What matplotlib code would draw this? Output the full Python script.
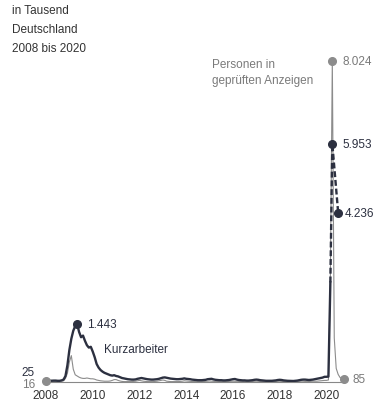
import numpy as np
import matplotlib
matplotlib.use("Agg")
import matplotlib.pyplot as plt

plt.rcParams['font.family'] = ['Liberation Sans', 'DejaVu Sans']

# Kurzarbeiter in Tausend, monatlich Jan 2008 .. Mar 2020
kurz_2008 = [25, 28, 30, 32, 35, 35, 30, 30, 40, 60, 150, 420]
kurz_2009 = [800, 1080, 1280, 1400, 1443, 1250, 1120, 1160, 1030, 920, 860, 880]
kurz_2010 = [760, 620, 450, 360, 300, 260, 230, 210, 190, 170, 160, 170]
kurz_2011 = [150, 140, 120, 100, 90, 80, 70, 65, 60, 60, 65, 80]
kurz_2012 = [90, 100, 90, 80, 70, 65, 60, 60, 65, 70, 80, 95]
kurz_2013 = [110, 115, 105, 95, 85, 80, 75, 70, 70, 75, 80, 90]
kurz_2014 = [80, 75, 70, 60, 55, 50, 45, 45, 45, 50, 55, 70]
kurz_2015 = [75, 80, 65, 55, 50, 45, 45, 40, 40, 45, 50, 60]
kurz_2016 = [70, 75, 60, 50, 45, 40, 40, 35, 35, 40, 45, 55]
kurz_2017 = [60, 55, 45, 40, 35, 30, 30, 30, 30, 35, 40, 50]
kurz_2018 = [55, 50, 40, 35, 30, 28, 25, 25, 30, 35, 45, 55]
kurz_2019 = [60, 60, 55, 50, 55, 60, 70, 80, 90, 100, 110, 130]
kurz_2020 = [130, 135, 2490]
# Hochrechnung (gestrichelt): Mar, Apr, Jul 2020
kurz_proj_months = [2020 + 2/12, 2020 + 3/12, 2020 + 6/12]
kurz_proj = [2490, 5953, 4236]

# Personen in geprüften Anzeigen, monatlich Jan 2008 .. Oct 2020
anz_2008 = [16, 15, 15, 15, 15, 15, 15, 18, 20, 30, 90, 220]
anz_2009 = [500, 660, 320, 180, 150, 120, 100, 90, 90, 100, 90, 80]
anz_2010 = [80, 70, 50, 40, 30, 25, 20, 20, 20, 25, 40, 60]
anz_2011 = [60, 40, 25, 15, 10, 10, 10, 10, 10, 15, 20, 30]
anz_2012 = [40, 30, 20, 15, 10, 10, 10, 10, 15, 20, 30, 40]
anz_2013 = [50, 40, 20, 15, 10, 10, 10, 10, 10, 15, 20, 30]
anz_2014 = [25, 20, 15, 12, 10, 10, 10, 10, 10, 12, 15, 20]
anz_2015 = [25, 20, 15, 12, 10, 10, 10, 10, 10, 12, 15, 20]
anz_2016 = [20, 18, 15, 12, 10, 10, 10, 10, 10, 12, 15, 20]
anz_2017 = [20, 15, 12, 10, 10, 10, 10, 10, 10, 12, 15, 18]
anz_2018 = [18, 15, 12, 10, 10, 10, 10, 10, 12, 15, 18, 20]
anz_2019 = [20, 15, 15, 15, 15, 20, 20, 20, 25, 30, 35, 40]
anz_2020 = [40, 50, 2600, 8024, 1100, 340, 190, 110, 100, 85]

years = [2008, 2010, 2012, 2014, 2016, 2018, 2020]

kurz = np.array(kurz_2008 + kurz_2009 + kurz_2010 + kurz_2011 + kurz_2012 + kurz_2013 +
                kurz_2014 + kurz_2015 + kurz_2016 + kurz_2017 + kurz_2018 + kurz_2019 + kurz_2020)
anz = np.array(anz_2008 + anz_2009 + anz_2010 + anz_2011 + anz_2012 + anz_2013 +
               anz_2014 + anz_2015 + anz_2016 + anz_2017 + anz_2018 + anz_2019 + anz_2020)
t_kurz = 2008 + np.arange(len(kurz)) / 12
t_anz = 2008 + np.arange(len(anz)) / 12

dark = '#2c3040'
gray = '#8c8c8c'
tgray = '#7a7a7a'

fig = plt.figure(figsize=(3.83, 4.14), dpi=100)
ax = fig.add_axes([46/383, 31/414, 298/383, 340/414])
ax.set_xlim(2008, 2020.75)
ax.set_ylim(0, 8500)

ax.plot(t_anz, anz, color=gray, lw=0.8, zorder=2)
ax.plot(t_kurz, kurz, color=dark, lw=1.7, zorder=3, solid_joinstyle='round')
ax.plot(kurz_proj_months, kurz_proj, color=dark, lw=1.7, ls=(0, (2.5, 1.2)), zorder=3)

# Punkte
ms = 5.5
ax.plot(t_anz[0], anz[0], 'o', color=gray, ms=ms, zorder=5, clip_on=False)
ax.plot(t_anz[-1], anz[-1], 'o', color=gray, ms=ms, zorder=5, clip_on=False)
i_max = int(np.argmax(anz))
ax.plot(t_anz[i_max], anz[i_max], 'o', color=gray, ms=ms, zorder=5)
k_max = int(np.argmax(kurz[:30]))
ax.plot(t_kurz[k_max], kurz[k_max], 'o', color=dark, ms=ms, zorder=5)
ax.plot(kurz_proj_months[1:], kurz_proj[1:], 'o', color=dark, ms=ms, zorder=5, lw=0)

fs = 8.5
ax.annotate('1.443', (t_kurz[k_max], kurz[k_max]), xytext=(7, 0), textcoords='offset points',
            va='center', ha='left', color=dark, fontsize=fs)
ax.text(2010.5, 820, 'Kurzarbeiter', color=dark, fontsize=fs, va='center')
ax.annotate('8.024', (t_anz[i_max], anz[i_max]), xytext=(7, 0), textcoords='offset points',
            va='center', ha='left', color=tgray, fontsize=fs)
ax.text(2015.1, 7750, 'Personen in\ngeprüften Anzeigen', color=tgray, fontsize=fs,
        va='center', ha='left', linespacing=1.35)
ax.annotate('5.953', (kurz_proj_months[1], kurz_proj[1]), xytext=(7, 0), textcoords='offset points',
            va='center', ha='left', color=dark, fontsize=fs)
ax.annotate('4.236', (kurz_proj_months[2], kurz_proj[2]), xytext=(5, 0), textcoords='offset points',
            va='center', ha='left', color=dark, fontsize=fs)
ax.annotate(str(anz[-1]), (t_anz[-1], anz[-1]), xytext=(6, 0), textcoords='offset points',
            va='center', ha='left', color=tgray, fontsize=fs)
ax.annotate(str(kurz[0]), (t_kurz[0], 0), xytext=(-8, 7), textcoords='offset points',
            va='center', ha='right', color=dark, fontsize=fs)
ax.annotate(str(anz[0]), (t_anz[0], 0), xytext=(-8, -1.5), textcoords='offset points',
            va='center', ha='right', color=tgray, fontsize=fs)

for s in ['top', 'right', 'left']:
    ax.spines[s].set_visible(False)
ax.spines['bottom'].set_color('#888888')
ax.spines['bottom'].set_linewidth(0.8)
ax.set_yticks([])
ax.set_xticks(years)
ax.set_xticklabels([str(y) for y in years])
ax.tick_params(axis='x', length=0, pad=5, labelsize=fs, labelcolor='#333333')

fig.text(12/383, 1 - 11/414, 'in Tausend', fontsize=fs, color='#333333', va='center')
fig.text(12/383, 1 - 30/414, 'Deutschland', fontsize=fs, color='#333333', va='center')
fig.text(12/383, 1 - 49/414, '2008 bis 2020', fontsize=fs, color='#333333', va='center')

fig.savefig('out.png', dpi=100, facecolor='white')
